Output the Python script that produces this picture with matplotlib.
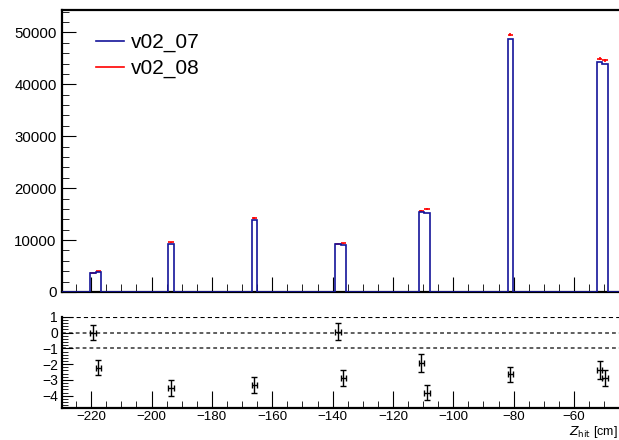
import numpy as np
import matplotlib
matplotlib.use("Agg")
import matplotlib.pyplot as plt
from matplotlib.ticker import MultipleLocator
from matplotlib.lines import Line2D

plt.rcParams['font.family'] = ['Liberation Sans', 'DejaVu Sans']

# ---- data ----
z_min, z_max, n_bins = -229.6, -45.1, 100
filled_bins = [5, 6, 19, 34, 49, 50, 64, 65, 80, 96, 97]
counts_v02_07 = [3750, 3850, 9150, 13800, 9300, 9100, 15330, 15300, 48750, 44250, 43880]
counts_v02_08 = [3750, 4020, 9550, 14250, 9310, 9390, 15680, 15970, 49550, 44900, 44650]
err_v02_08 = [87, 90, 140, 170, 137, 137, 177, 178, 315, 300, 299]
pull_values = [0.0, -2.22, -3.53, -3.32, 0.05, -2.9, -1.93, -3.8, -2.65, -2.37, -2.9]
pull_err = [0.5, 0.5, 0.5, 0.5, 0.55, 0.5, 0.55, 0.5, 0.5, 0.55, 0.5]
labels = ["v02_07", "v02_08"]

edges = np.linspace(z_min, z_max, n_bins + 1)
centers = 0.5 * (edges[:-1] + edges[1:])
half_w = 0.5 * (edges[1] - edges[0])
h07 = np.zeros(n_bins)
h07[filled_bins] = counts_v02_07
fc = centers[filled_bins]

blue = '#14149a'
red = '#ff0000'

fig = plt.figure(figsize=(6.19, 4.40), dpi=100)
ax1 = fig.add_axes([0.1005, 0.3364, 0.8995, 0.6406])
ax2 = fig.add_axes([0.1005, 0.072, 0.8995, 0.208])

# top panel
ax1.errorbar(fc, counts_v02_08, xerr=half_w, yerr=err_v02_08, fmt='none',
             ecolor=red, elinewidth=1.2, capsize=0, zorder=2)
ax1.stairs(h07, edges, color=blue, lw=1.2, zorder=3)
ax1.set_xlim(z_min, z_max)
ax1.set_ylim(0, 54300)
ax1.yaxis.set_major_locator(MultipleLocator(10000))
ax1.yaxis.set_minor_locator(MultipleLocator(2000))
ax1.xaxis.set_major_locator(MultipleLocator(20))
ax1.xaxis.set_minor_locator(MultipleLocator(5))
ax1.tick_params(axis='both', which='both', direction='in', top=False, right=False)
ax1.tick_params(axis='y', which='major', length=10, labelsize=10.8, pad=4)
ax1.tick_params(axis='y', which='minor', length=5)
ax1.tick_params(axis='x', which='major', length=11, labelbottom=False)
ax1.tick_params(axis='x', which='minor', length=6)
for s in ['top', 'left', 'bottom']:
    ax1.spines[s].set_linewidth(1.6)
ax1.spines['right'].set_visible(False)

handles = [Line2D([], [], color=blue, lw=1.2), Line2D([], [], color=red, lw=1.2)]
ax1.legend(handles, labels, loc='upper left', bbox_to_anchor=(0.061, 0.918),
           frameon=False, fontsize=15, handlelength=1.35, handletextpad=0.3,
           labelspacing=0.32, borderpad=0, borderaxespad=0)

# bottom panel
ax2.axhline(1, color='black', lw=1.5, ls=(0, (2, 1.5)), zorder=1)
for yv in [0, -1]:
    ax2.axhline(yv, color='#333333', lw=1.1, ls=(0, (2.5, 2)), zorder=1)
ax2.errorbar(fc, pull_values, xerr=half_w, yerr=pull_err, fmt='none',
             ecolor='black', elinewidth=1.0, capsize=2, capthick=1.0, zorder=3)
ax2.set_xlim(z_min, z_max)
ax2.set_ylim(-4.8, 1.0)
ax2.yaxis.set_major_locator(MultipleLocator(1))
ax2.yaxis.set_minor_locator(MultipleLocator(0.2))
ax2.xaxis.set_major_locator(MultipleLocator(20))
ax2.xaxis.set_minor_locator(MultipleLocator(5))
ax2.tick_params(axis='both', which='both', direction='in', top=False, right=False)
ax2.tick_params(axis='y', which='major', length=8, labelsize=10, pad=3)
ax2.tick_params(axis='y', which='minor', length=4)
ax2.tick_params(axis='x', which='major', length=12, labelsize=9.6, pad=2)
ax2.tick_params(axis='x', which='minor', length=5)
for s in ['left', 'bottom']:
    ax2.spines[s].set_linewidth(1.6)
ax2.spines['top'].set_visible(False)
ax2.spines['right'].set_visible(False)
ax2.set_xlabel(r'$Z_{\rm hit}$ [cm]', fontsize=9)
ax2.xaxis.set_label_coords(0.998, -0.343)
ax2.xaxis.label.set_horizontalalignment('right')
ax2.xaxis.label.set_verticalalignment('bottom')

fig.savefig('out.png', dpi=100)
